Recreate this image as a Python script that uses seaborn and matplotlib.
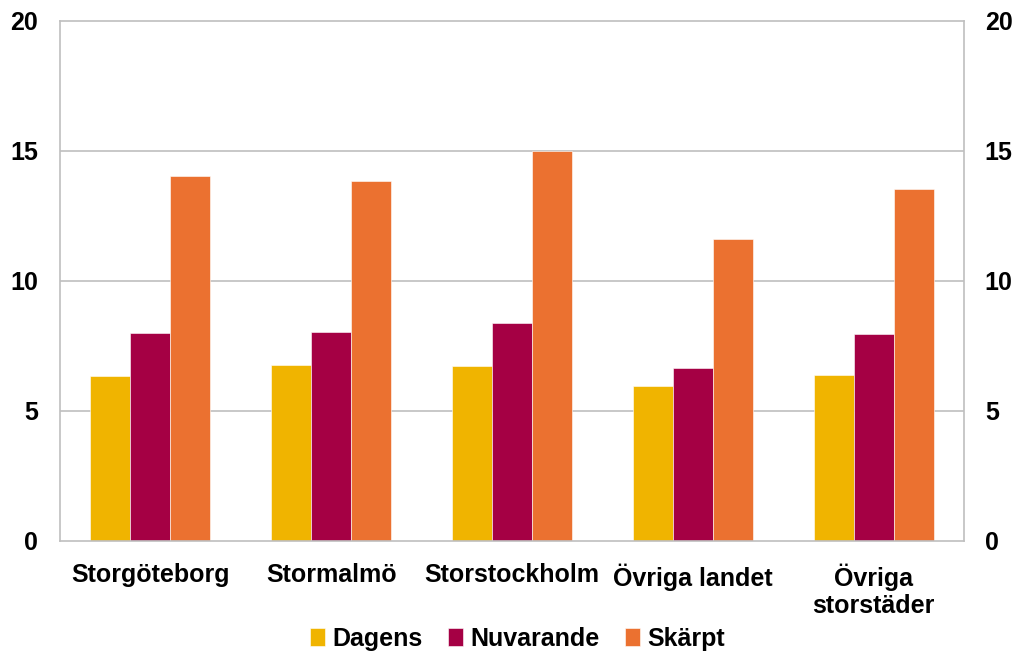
import matplotlib
matplotlib.use("Agg")
import matplotlib.pyplot as plt
import seaborn as sns
import pandas as pd
import numpy as np

regions = ["Storgöteborg", "Stormalmö", "Storstockholm", "Övriga landet", "Övriga\nstorstäder"]
series_names = ["Dagens", "Nuvarande", "Skärpt"]
dagens = [6.33, 6.76, 6.73, 5.95, 6.38]
nuvarande = [7.99, 8.05, 8.37, 6.64, 7.96]
skarpt = [14.05, 13.86, 15.0, 11.6, 13.54]
y_ticks = [0, 5, 10, 15, 20]

colors = ["#F0B400", "#A50044", "#EB7130"]

df = pd.DataFrame({
    "region": regions * 3,
    "serie": [s for s in series_names for _ in regions],
    "value": dagens + nuvarande + skarpt,
})

sns.set_theme(style="white")
plt.rcParams["font.family"] = ["Liberation Sans", "DejaVu Sans"]
plt.rcParams["font.weight"] = "bold"
plt.rcParams["text.color"] = "#000000"

fig = plt.figure(figsize=(10.15, 6.55), dpi=100)
ax = fig.add_axes([60 / 1015, 1 - 541 / 655, (964 - 60) / 1015, (541 - 21) / 655])

sns.barplot(data=df, x="region", y="value", hue="serie", order=regions,
            hue_order=series_names, palette=colors, width=0.663, gap=0,
            edgecolor="#ffffff", linewidth=0.4, saturation=1, ax=ax,
            errorbar=None)

grid_col = "#BFBFBF"
ax.set_ylim(0, 20)
ax.set_xlim(-0.5, len(regions) - 0.5)
ax.set_yticks(y_ticks)
for y in y_ticks[1:-1]:
    ax.axhline(y, color=grid_col, lw=1.2, zorder=0)
for sp in ax.spines.values():
    sp.set_visible(True)
    sp.set_color(grid_col)
    sp.set_linewidth(1.2)

ax.set_xlabel("")
ax.set_ylabel("")
ax.tick_params(axis="y", length=0, pad=16, labelsize=18)
ax.tick_params(axis="x", which="major", length=0, pad=16, labelsize=18)
ax.set_xticks(np.arange(-0.5, len(regions)), minor=True)
ax.tick_params(axis="x", which="minor", length=7, color=grid_col, width=1.2)
for lab in ax.get_xticklabels() + ax.get_yticklabels():
    lab.set_fontweight("bold")
    lab.set_color("#000000")

ax2 = ax.twinx()
ax2.set_ylim(0, 20)
ax2.set_yticks(y_ticks)
ax2.tick_params(axis="y", length=0, pad=15, labelsize=18)
for sp in ax2.spines.values():
    sp.set_visible(False)
for lab in ax2.get_yticklabels():
    lab.set_fontweight("bold")
    lab.set_color("#000000")

handles, labels = ax.get_legend_handles_labels()
ax.get_legend().remove()
leg = fig.legend(handles, labels, loc="center", bbox_to_anchor=(0.5 + 10 / 1015, 1 - 639 / 655),
                 ncol=3, frameon=False, handlelength=0.6, handleheight=0.75,
                 handletextpad=0.3, columnspacing=1.0,
                 prop={"weight": "bold", "size": 18})
for t in leg.get_texts():
    t.set_color("#000000")

fig.savefig("out.png", dpi=100)
